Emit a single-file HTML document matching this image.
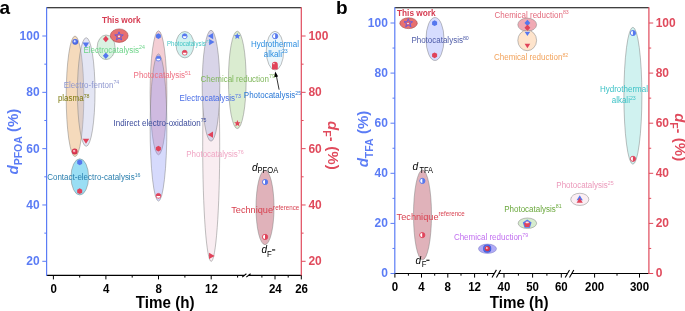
<!DOCTYPE html>
<html><head><meta charset="utf-8"><style>
html,body{margin:0;padding:0;background:#fff;}
body{width:685px;height:311px;overflow:hidden;}
svg{display:block;will-change:transform;}
text{font-family:"Liberation Sans", sans-serif;}
</style></head><body>
<svg width="685" height="311" viewBox="0 0 685 311">
<defs>
<radialGradient id="gb" cx="0.5" cy="0.5" r="0.5" fx="0.36" fy="0.36"><stop offset="0" stop-color="#ffffff"/><stop offset="0.22" stop-color="#c8d2ff"/><stop offset="0.5" stop-color="#5a78f0"/><stop offset="1" stop-color="#3d5ad8"/></radialGradient>
<radialGradient id="gr" cx="0.5" cy="0.5" r="0.5" fx="0.36" fy="0.36"><stop offset="0" stop-color="#ffffff"/><stop offset="0.22" stop-color="#f6b8c0"/><stop offset="0.5" stop-color="#e4405a"/><stop offset="1" stop-color="#c82a44"/></radialGradient>
</defs>
<ellipse cx="75.0" cy="96.30" rx="8.8" ry="60.30" fill="#f5dabc" fill-opacity="1" stroke="#7a7a7a" stroke-width="0.6" stroke-opacity="0.8"/>
<ellipse cx="86.2" cy="92.00" rx="8.8" ry="54.30" fill="#b2b8e0" fill-opacity="0.35" stroke="#7a7a7a" stroke-width="0.6" stroke-opacity="0.8"/>
<ellipse cx="106.1" cy="47.30" rx="8.95" ry="12.30" fill="#daf2e2" fill-opacity="1" stroke="#7a7a7a" stroke-width="0.6" stroke-opacity="0.8"/>
<ellipse cx="119.2" cy="35.65" rx="8.9" ry="6.75" fill="#e87070" fill-opacity="1" stroke="#a04040" stroke-width="0.7" stroke-opacity="0.8"/>
<ellipse cx="79.8" cy="176.90" rx="8.8" ry="18.10" fill="#9adef4" fill-opacity="1" stroke="#7a7a7a" stroke-width="0.6" stroke-opacity="0.8"/>
<ellipse cx="158.5" cy="92.80" rx="8.4" ry="62.00" fill="#f4ced4" fill-opacity="1" stroke="#7a7a7a" stroke-width="0.6" stroke-opacity="0.8"/>
<ellipse cx="158.5" cy="127.50" rx="8.4" ry="73.60" fill="#8a95f6" fill-opacity="0.35" stroke="#7a7a7a" stroke-width="0.6" stroke-opacity="0.8"/>
<ellipse cx="184.9" cy="44.70" rx="8.9" ry="13.20" fill="#d2f2f0" fill-opacity="1" stroke="#7a7a7a" stroke-width="0.6" stroke-opacity="0.8"/>
<ellipse cx="211.2" cy="146.20" rx="8.5" ry="115.20" fill="#f9edf1" fill-opacity="1" stroke="#7a7a7a" stroke-width="0.6" stroke-opacity="0.8"/>
<ellipse cx="211.0" cy="85.70" rx="8.8" ry="55.50" fill="#d8d4e8" fill-opacity="1" stroke="#7a7a7a" stroke-width="0.6" stroke-opacity="0.8"/>
<ellipse cx="237.3" cy="79.90" rx="8.85" ry="48.70" fill="#daecd0" fill-opacity="1" stroke="#7a7a7a" stroke-width="0.6" stroke-opacity="0.8"/>
<ellipse cx="275.0" cy="50.70" rx="8.7" ry="19.40" fill="#eaf6fc" fill-opacity="1" stroke="#7a7a7a" stroke-width="0.6" stroke-opacity="0.8"/>
<ellipse cx="265.0" cy="207.45" rx="9.0" ry="37.25" fill="#e0b2ba" fill-opacity="1" stroke="#7a7a7a" stroke-width="0.6" stroke-opacity="0.8"/>
<circle cx="75.2" cy="41.8" r="2.9" fill="url(#gb)"/>
<circle cx="74.7" cy="151.5" r="2.9" fill="url(#gr)"/>
<polygon points="82.65,42.56 89.15,42.56 85.90,47.66" fill="#5577ee"/>
<polygon points="82.75,138.66 89.25,138.66 86.00,143.76" fill="#e0435a"/>
<polygon points="105.8,35.8 108.7,39.0 105.8,42.2 102.89999999999999,39.0" fill="#e0435a"/>
<polygon points="105.8,52.599999999999994 108.7,55.8 105.8,59.0 102.89999999999999,55.8" fill="#5577ee"/>
<polygon points="119.00,31.80 120.11,34.77 123.28,34.91 120.80,36.88 121.65,39.94 119.00,38.19 116.35,39.94 117.20,36.88 114.72,34.91 117.89,34.77" fill="#e0606a" stroke="#5a5ae6" stroke-width="0.9" stroke-linejoin="round"/>
<circle cx="119" cy="36.4" r="0.9" fill="#fff"/>
<polygon points="79.70,159.40 82.21,160.85 82.21,163.75 79.70,165.20 77.19,163.75 77.19,160.85" fill="#5577ee"/>
<polygon points="79.70,188.30 82.21,189.75 82.21,192.65 79.70,194.10 77.19,192.65 77.19,189.75" fill="#e0435a"/>
<polygon points="158.40,33.20 160.91,34.65 160.91,37.55 158.40,39.00 155.89,37.55 155.89,34.65" fill="#5577ee"/>
<polygon points="158.40,145.70 160.91,147.15 160.91,150.05 158.40,151.50 155.89,150.05 155.89,147.15" fill="#e0435a"/>
<circle cx="158.4" cy="58.6" r="2.4" fill="#5577ee" stroke="#5577ee" stroke-width="0.8"/>
<path d="M156.50,58.70 A1.90,1.90 0 0 0 160.30,58.70 Z" fill="#fff"/>
<circle cx="158.4" cy="195.8" r="2.4" fill="#e0435a" stroke="#e0435a" stroke-width="0.8"/>
<path d="M156.50,195.90 A1.90,1.90 0 0 0 160.30,195.90 Z" fill="#fff"/>
<circle cx="184.7" cy="36.2" r="2.4" fill="#5577ee" stroke="#5577ee" stroke-width="0.8"/>
<path d="M182.80,36.30 A1.90,1.90 0 0 0 186.60,36.30 Z" fill="#fff"/>
<circle cx="184.7" cy="52.7" r="2.4" fill="#e0435a" stroke="#e0435a" stroke-width="0.8"/>
<path d="M182.80,52.80 A1.90,1.90 0 0 0 186.60,52.80 Z" fill="#fff"/>
<polygon points="213.18,33.00 213.18,39.20 207.75,36.10" fill="#5577ee"/>
<polygon points="212.98,131.60 212.98,137.80 207.56,134.70" fill="#e0435a"/>
<polygon points="209.12,39.00 209.12,45.20 214.54,42.10" fill="#5577ee"/>
<polygon points="209.04,252.70 209.04,259.10 214.64,255.90" fill="#e0435a"/>
<polygon points="237.30,32.90 238.20,35.06 240.53,35.25 238.76,36.77 239.30,39.05 237.30,37.83 235.30,39.05 235.84,36.77 234.07,35.25 236.40,35.06" fill="#5577ee"/>
<polygon points="237.40,120.00 238.30,122.16 240.63,122.35 238.86,123.87 239.40,126.15 237.40,124.93 235.40,126.15 235.94,123.87 234.17,122.35 236.50,122.16" fill="#e0435a"/>
<circle cx="275.2" cy="36.2" r="2.6" fill="#5577ee" stroke="#5577ee" stroke-width="0.8"/>
<path d="M275.10,34.10 A2.10,2.10 0 0 0 275.10,38.30 Z" fill="#fff"/>
<path d="M272.0,64.7 A2.9,2.9 0 0 1 277.8,64.7 L277.8,68.8 Q277.8,69.5 277.1,69.5 L272.7,69.5 Q272.0,69.5 272.0,68.8 Z" fill="#e0435a"/><rect x="273.2" y="62.9" width="1.3" height="1.3" fill="#fff" opacity="0.85"/>
<circle cx="265.1" cy="182.0" r="2.6" fill="#5577ee" stroke="#5577ee" stroke-width="0.8"/>
<path d="M265.00,179.90 A2.10,2.10 0 0 0 265.00,184.10 Z" fill="#fff"/>
<circle cx="265.1" cy="236.9" r="2.6" fill="#e0435a" stroke="#e0435a" stroke-width="0.8"/>
<path d="M265.00,234.80 A2.10,2.10 0 0 0 265.00,239.00 Z" fill="#fff"/>
<line x1="279.1" y1="89.7" x2="276.3" y2="75.5" stroke="#000" stroke-width="0.8"/>
<polygon points="275.3,71.6 273.9,77.3 278.1,76.5" fill="#000"/>
<text transform="translate(102.0,22.9) scale(1.0,1.11)" font-size="8.3" fill="#d63c52" font-weight="bold" text-anchor="start">This work</text>
<text transform="translate(83.5,52.85) scale(1.0,1.11)" font-size="8.0" fill="#6cd488">Electrocatalysis<tspan font-size="5.28" dy="-3.20">24</tspan></text>
<text transform="translate(63.7,87.95) scale(1.0,1.11)" font-size="8.0" fill="#8f97d0">Electro-fenton<tspan font-size="5.28" dy="-3.20">74</tspan></text>
<text transform="translate(57.9,101.05) scale(1.0,1.11)" font-size="8.0" fill="#7d7a10">plasma<tspan font-size="5.28" dy="-3.20">78</tspan></text>
<text transform="translate(167.1,46.05) scale(1.0,1.11)" font-size="6.0" fill="#44c6c6">Photocatalysis<tspan font-size="3.96" dy="-2.40">77</tspan></text>
<text transform="translate(133.6,78.05) scale(1.0,1.11)" font-size="8.0" fill="#ee6e80">Photocatalysis<tspan font-size="5.28" dy="-3.20">51</tspan></text>
<text transform="translate(200.6,81.65) scale(1.0,1.11)" font-size="8.0" fill="#80b85c">Chemical reduction<tspan font-size="5.28" dy="-3.20">79</tspan></text>
<text transform="translate(251.0,46.65) scale(1.0,1.11)" font-size="8.0" fill="#2c8ee0">Hydrothermal<tspan font-size="5.28" dy="-3.20"></tspan></text>
<text transform="translate(263.7,56.55) scale(1.0,1.11)" font-size="8.0" fill="#2c8ee0">alkali<tspan font-size="5.28" dy="-3.20">23</tspan></text>
<text transform="translate(179.6,101.35) scale(1.0,1.11)" font-size="8.0" fill="#4a6ee6">Electrocatalysis<tspan font-size="5.28" dy="-3.20">73</tspan></text>
<text transform="translate(243.8,98.15) scale(1.0,1.11)" font-size="8.0" fill="#2a78d6">Photocatalysis<tspan font-size="5.28" dy="-3.20">25</tspan></text>
<text transform="translate(113.6,125.75) scale(1.0,1.11)" font-size="8.0" fill="#3c4c9c">Indirect electro-oxidation<tspan font-size="5.28" dy="-3.20">75</tspan></text>
<text transform="translate(186.2,157.45) scale(1.0,1.11)" font-size="8.0" fill="#f0a6c4">Photocatalysis<tspan font-size="5.28" dy="-3.20">76</tspan></text>
<text transform="translate(47.2,180.25) scale(1.0,1.11)" font-size="8.0" fill="#2a7fae">Contact-electro-catalysis<tspan font-size="5.28" dy="-3.20">16</tspan></text>
<text transform="translate(231.2,213.15) scale(1.0,1.05)" font-size="9.2" fill="#d8404f">Technique<tspan font-size="6.2" dy="-3.30">reference</tspan></text>
<text transform="translate(252,170.9) scale(1.0,1.11)" font-size="10" font-style="italic" fill="#000">d<tspan font-size="7.6" font-style="normal" dy="1.9">PFOA</tspan></text>
<text transform="translate(261.4,252.6) scale(1.0,1.11)" font-size="10" font-style="italic" fill="#000">d</text>
<text transform="translate(266.9,256.5) scale(1.0,1.11)" font-size="7.8" fill="#000">F</text>
<rect x="272.0" y="249.4" width="3.2" height="1.1" fill="#000"/>
<line x1="46.6" y1="7.7" x2="301.3" y2="7.7" stroke="#000" stroke-width="1.1"/>
<path d="M46.6,275.4 H244.3 M248.5,275.4 H301.3" stroke="#000" stroke-width="1.2" fill="none"/>
<path d="M242.2,277.1 L246.4,273.8 M246.3,277.1 L250.6,273.8" stroke="#000" stroke-width="1.1" fill="none"/>
<line x1="46.6" y1="7.2" x2="46.6" y2="275.9" stroke="#5b7cf5" stroke-width="1.2"/>
<line x1="301.3" y1="7.2" x2="301.3" y2="275.9" stroke="#e04a5c" stroke-width="1.2"/>
<line x1="42.300000000000004" y1="36.00" x2="46.6" y2="36.00" stroke="#5b7cf5" stroke-width="1"/>
<line x1="301.3" y1="36.00" x2="305.6" y2="36.00" stroke="#e04a5c" stroke-width="1"/>
<line x1="42.300000000000004" y1="92.33" x2="46.6" y2="92.33" stroke="#5b7cf5" stroke-width="1"/>
<line x1="301.3" y1="92.33" x2="305.6" y2="92.33" stroke="#e04a5c" stroke-width="1"/>
<line x1="42.300000000000004" y1="148.65" x2="46.6" y2="148.65" stroke="#5b7cf5" stroke-width="1"/>
<line x1="301.3" y1="148.65" x2="305.6" y2="148.65" stroke="#e04a5c" stroke-width="1"/>
<line x1="42.300000000000004" y1="204.98" x2="46.6" y2="204.98" stroke="#5b7cf5" stroke-width="1"/>
<line x1="301.3" y1="204.98" x2="305.6" y2="204.98" stroke="#e04a5c" stroke-width="1"/>
<line x1="42.300000000000004" y1="261.30" x2="46.6" y2="261.30" stroke="#5b7cf5" stroke-width="1"/>
<line x1="301.3" y1="261.30" x2="305.6" y2="261.30" stroke="#e04a5c" stroke-width="1"/>
<line x1="44.300000000000004" y1="64.16" x2="46.6" y2="64.16" stroke="#5b7cf5" stroke-width="1"/>
<line x1="301.3" y1="64.16" x2="303.6" y2="64.16" stroke="#e04a5c" stroke-width="1"/>
<line x1="44.300000000000004" y1="120.49" x2="46.6" y2="120.49" stroke="#5b7cf5" stroke-width="1"/>
<line x1="301.3" y1="120.49" x2="303.6" y2="120.49" stroke="#e04a5c" stroke-width="1"/>
<line x1="44.300000000000004" y1="176.81" x2="46.6" y2="176.81" stroke="#5b7cf5" stroke-width="1"/>
<line x1="301.3" y1="176.81" x2="303.6" y2="176.81" stroke="#e04a5c" stroke-width="1"/>
<line x1="44.300000000000004" y1="233.14" x2="46.6" y2="233.14" stroke="#5b7cf5" stroke-width="1"/>
<line x1="301.3" y1="233.14" x2="303.6" y2="233.14" stroke="#e04a5c" stroke-width="1"/>
<text transform="translate(39.6,39.85) scale(1.0,1.08)" font-size="12.0" fill="#5b7cf5" font-weight="bold" text-anchor="end">100</text>
<text transform="translate(308.4,39.85) scale(1.0,1.08)" font-size="12.0" fill="#e04a5c" font-weight="bold" text-anchor="start">100</text>
<text transform="translate(39.6,96.18) scale(1.0,1.08)" font-size="12.0" fill="#5b7cf5" font-weight="bold" text-anchor="end">80</text>
<text transform="translate(308.4,96.18) scale(1.0,1.08)" font-size="12.0" fill="#e04a5c" font-weight="bold" text-anchor="start">80</text>
<text transform="translate(39.6,152.5) scale(1.0,1.08)" font-size="12.0" fill="#5b7cf5" font-weight="bold" text-anchor="end">60</text>
<text transform="translate(308.4,152.5) scale(1.0,1.08)" font-size="12.0" fill="#e04a5c" font-weight="bold" text-anchor="start">60</text>
<text transform="translate(39.6,208.83) scale(1.0,1.08)" font-size="12.0" fill="#5b7cf5" font-weight="bold" text-anchor="end">40</text>
<text transform="translate(308.4,208.83) scale(1.0,1.08)" font-size="12.0" fill="#e04a5c" font-weight="bold" text-anchor="start">40</text>
<text transform="translate(39.6,265.15) scale(1.0,1.08)" font-size="12.0" fill="#5b7cf5" font-weight="bold" text-anchor="end">20</text>
<text transform="translate(308.4,265.15) scale(1.0,1.08)" font-size="12.0" fill="#e04a5c" font-weight="bold" text-anchor="start">20</text>
<line x1="53.4" y1="275.4" x2="53.4" y2="279.4" stroke="#000" stroke-width="1"/>
<line x1="105.9" y1="275.4" x2="105.9" y2="279.4" stroke="#000" stroke-width="1"/>
<line x1="158.5" y1="275.4" x2="158.5" y2="279.4" stroke="#000" stroke-width="1"/>
<line x1="211.2" y1="275.4" x2="211.2" y2="279.4" stroke="#000" stroke-width="1"/>
<line x1="275.0" y1="275.4" x2="275.0" y2="279.4" stroke="#000" stroke-width="1"/>
<line x1="301.3" y1="275.4" x2="301.3" y2="279.4" stroke="#000" stroke-width="1"/>
<line x1="79.7" y1="275.4" x2="79.7" y2="277.59999999999997" stroke="#000" stroke-width="1"/>
<line x1="132.2" y1="275.4" x2="132.2" y2="277.59999999999997" stroke="#000" stroke-width="1"/>
<line x1="184.9" y1="275.4" x2="184.9" y2="277.59999999999997" stroke="#000" stroke-width="1"/>
<line x1="237.6" y1="275.4" x2="237.6" y2="277.59999999999997" stroke="#000" stroke-width="1"/>
<line x1="261.9" y1="275.4" x2="261.9" y2="277.59999999999997" stroke="#000" stroke-width="1"/>
<line x1="288.2" y1="275.4" x2="288.2" y2="277.59999999999997" stroke="#000" stroke-width="1"/>
<text transform="translate(53.699999999999996,292.6) scale(1.0,1.06)" font-size="11.5" fill="#000" font-weight="bold" text-anchor="middle">0</text>
<text transform="translate(106.2,292.6) scale(1.0,1.06)" font-size="11.5" fill="#000" font-weight="bold" text-anchor="middle">4</text>
<text transform="translate(158.8,292.6) scale(1.0,1.06)" font-size="11.5" fill="#000" font-weight="bold" text-anchor="middle">8</text>
<text transform="translate(211.5,292.6) scale(1.0,1.06)" font-size="11.5" fill="#000" font-weight="bold" text-anchor="middle">12</text>
<text transform="translate(275.3,292.6) scale(1.0,1.06)" font-size="11.5" fill="#000" font-weight="bold" text-anchor="middle">24</text>
<text transform="translate(301.6,292.6) scale(1.0,1.06)" font-size="11.5" fill="#000" font-weight="bold" text-anchor="middle">26</text>
<text transform="translate(165.2,307.7) scale(1.0,1.1)" font-size="15.2" fill="#000" font-weight="bold" text-anchor="middle">Time (h)</text>
<text transform="translate(17.8,174.5) rotate(-90)" font-weight="bold" font-size="15" fill="#5b7cf5"><tspan font-style="italic">d</tspan><tspan font-size="10.5" dy="4.6">PFOA</tspan><tspan dy="-4.6"> (%)</tspan></text>
<text transform="translate(327.6,121.0) rotate(90)" font-weight="bold" font-size="15" fill="#e04a5c"><tspan font-style="italic">d</tspan><tspan font-size="10.5" dy="4.6">F</tspan><tspan font-size="14" dy="-3.6" dx="0.5">-</tspan><tspan dy="-1.0" dx="0.4"> (%)</tspan></text>
<text transform="translate(-0.6,13.8) scale(1.0,1.0)" font-size="19" fill="#000" font-weight="bold" text-anchor="start">a</text>
<text transform="translate(335.9,13.8) scale(1.0,1.0)" font-size="19" fill="#000" font-weight="bold" text-anchor="start">b</text>
<ellipse cx="408.55" cy="23.20" rx="8.75" ry="5.40" fill="#e87070" fill-opacity="1" stroke="#a04040" stroke-width="0.7" stroke-opacity="0.8"/>
<ellipse cx="435.0" cy="39.00" rx="9.0" ry="21.50" fill="#d6dcfe" fill-opacity="1" stroke="#7a7a7a" stroke-width="0.6" stroke-opacity="0.8"/>
<ellipse cx="527.2" cy="24.70" rx="9.4" ry="6.60" fill="#f0aab4" fill-opacity="1" stroke="#7a7a7a" stroke-width="0.6" stroke-opacity="0.8"/>
<ellipse cx="527.2" cy="40.40" rx="9.4" ry="10.30" fill="#fee4cc" fill-opacity="1" stroke="#7a7a7a" stroke-width="0.6" stroke-opacity="0.8"/>
<ellipse cx="632.9" cy="95.75" rx="9.0" ry="68.45" fill="#d0f2f0" fill-opacity="1" stroke="#7a7a7a" stroke-width="0.6" stroke-opacity="0.8"/>
<ellipse cx="579.8" cy="199.35" rx="9.05" ry="6.10" fill="#fbeef3" fill-opacity="1" stroke="#7a7a7a" stroke-width="0.6" stroke-opacity="0.8"/>
<ellipse cx="527.4" cy="223.25" rx="9.25" ry="5.25" fill="#d6ecce" fill-opacity="1" stroke="#7a7a7a" stroke-width="0.6" stroke-opacity="0.8"/>
<ellipse cx="487.5" cy="248.75" rx="9.0" ry="4.65" fill="#b0aaf6" fill-opacity="1" stroke="#7070c0" stroke-width="0.6" stroke-opacity="0.8"/>
<ellipse cx="422.5" cy="214.90" rx="9.0" ry="44.90" fill="#e0b2ba" fill-opacity="1" stroke="#7a7a7a" stroke-width="0.6" stroke-opacity="0.8"/>
<polygon points="408.30,18.70 409.41,21.67 412.58,21.81 410.10,23.78 410.95,26.84 408.30,25.09 405.65,26.84 406.50,23.78 404.02,21.81 407.19,21.67" fill="#e0606a" stroke="#5a5ae6" stroke-width="0.9" stroke-linejoin="round"/>
<circle cx="408" cy="23.5" r="0.8" fill="#fff"/>
<polygon points="434.60,20.30 437.11,21.75 437.11,24.65 434.60,26.10 432.09,24.65 432.09,21.75" fill="#5577ee"/>
<polygon points="434.60,52.40 437.11,53.85 437.11,56.75 434.60,58.20 432.09,56.75 432.09,53.85" fill="#e0435a"/>
<polygon points="527.4,19.7 530.3,22.9 527.4,26.099999999999998 524.5,22.9" fill="#5577ee"/>
<polygon points="527.4,24.6 530.3,27.8 527.4,31.0 524.5,27.8" fill="#e0435a"/>
<polygon points="524.60,31.68 530.20,31.68 527.40,36.08" fill="#5577ee"/>
<polygon points="524.60,43.78 530.20,43.78 527.40,48.18" fill="#e0435a"/>
<circle cx="633.0" cy="33.0" r="2.6" fill="#5577ee" stroke="#5577ee" stroke-width="0.8"/>
<path d="M632.90,30.90 A2.10,2.10 0 0 0 632.90,35.10 Z" fill="#fff"/>
<circle cx="633.0" cy="158.8" r="2.6" fill="#e0435a" stroke="#e0435a" stroke-width="0.8"/>
<path d="M632.90,156.70 A2.10,2.10 0 0 0 632.90,160.90 Z" fill="#fff"/>
<polygon points="576.60,200.23 582.80,200.23 579.70,195.37" fill="#5577ee"/>
<polygon points="576.60,202.73 582.80,202.73 579.70,197.87" fill="#e0435a"/>
<polygon points="527.20,219.40 531.57,222.58 529.90,227.72 524.50,227.72 522.83,222.58" fill="#5577ee"/>
<polygon points="527.20,221.10 530.34,223.38 529.14,227.07 525.26,227.07 524.06,223.38" fill="#e0435a"/>
<ellipse cx="527.2" cy="222.4" rx="1.7" ry="0.9" fill="#fff" opacity="0.85"/>
<circle cx="487.2" cy="248.7" r="4.1" fill="url(#gb)"/>
<circle cx="487.3" cy="248.6" r="2.6" fill="url(#gr)"/>
<circle cx="422.4" cy="180.9" r="2.6" fill="#5577ee" stroke="#5577ee" stroke-width="0.8"/>
<path d="M422.30,178.80 A2.10,2.10 0 0 0 422.30,183.00 Z" fill="#fff"/>
<circle cx="422.3" cy="235.1" r="2.6" fill="#e0435a" stroke="#e0435a" stroke-width="0.8"/>
<path d="M422.20,233.00 A2.10,2.10 0 0 0 422.20,237.20 Z" fill="#fff"/>
<text transform="translate(397.0,16.0) scale(1.0,1.11)" font-size="8.3" fill="#d63c52" font-weight="bold" text-anchor="start">This work</text>
<text transform="translate(411.4,43.15) scale(1.0,1.11)" font-size="8.0" fill="#4f5ca8">Photocatalysis<tspan font-size="5.28" dy="-3.20">80</tspan></text>
<text transform="translate(494.5,17.75) scale(1.0,1.11)" font-size="8.0" fill="#e36a7c">Chemical reduction<tspan font-size="5.28" dy="-3.20">83</tspan></text>
<text transform="translate(494.0,60.35) scale(1.0,1.11)" font-size="8.0" fill="#f2a35c">Chemical reduction<tspan font-size="5.28" dy="-3.20">82</tspan></text>
<text transform="translate(600.0,92.25) scale(1.0,1.11)" font-size="8.0" fill="#3cc2c6">Hydrothermal<tspan font-size="5.28" dy="-3.20"></tspan></text>
<text transform="translate(611.7,103.35) scale(1.0,1.11)" font-size="8.0" fill="#3cc2c6">alkali<tspan font-size="5.28" dy="-3.20">23</tspan></text>
<text transform="translate(556.3,188.25) scale(1.0,1.11)" font-size="8.0" fill="#eb98ba">Photocatalysis<tspan font-size="5.28" dy="-3.20">25</tspan></text>
<text transform="translate(504.2,211.75) scale(1.0,1.11)" font-size="8.0" fill="#6aa83c">Photocatalysis<tspan font-size="5.28" dy="-3.20">81</tspan></text>
<text transform="translate(453.9,240.35) scale(1.0,1.11)" font-size="8.0" fill="#c270f0">Chemical reduction<tspan font-size="5.28" dy="-3.20">79</tspan></text>
<text transform="translate(396.6,219.55) scale(1.0,1.05)" font-size="9.2" fill="#d8404f">Technique<tspan font-size="6.2" dy="-3.30">reference</tspan></text>
<text transform="translate(412.6,170.0) scale(1.0,1.11)" font-size="10.2" font-style="italic" fill="#000">d</text>
<text transform="translate(419.4,172.6) scale(1.0,1.11)" font-size="7.4" fill="#000">TFA</text>
<text transform="translate(415.6,263.6) scale(1.0,1.11)" font-size="10" font-style="italic" fill="#000">d</text>
<text transform="translate(421.7,266.8) scale(1.0,1.11)" font-size="7.8" fill="#000">F</text>
<rect x="426.3" y="259.7" width="3.2" height="1.1" fill="#000"/>
<line x1="394.8" y1="7.7" x2="648.9" y2="7.7" stroke="#000" stroke-width="1.1"/>
<path d="M394.8,273.5 H494.2 M498.6,273.5 H567.2 M571.6,273.5 H648.9" stroke="#000" stroke-width="1.2" fill="none"/>
<path d="M492.0,277.5 L496.4,269.9 M496.4,277.5 L500.6,269.9 M565.2,277.5 L569.5,269.9 M569.5,277.5 L573.8,269.9" stroke="#000" stroke-width="1.1" fill="none"/>
<line x1="394.8" y1="7.2" x2="394.8" y2="274.0" stroke="#5b7cf5" stroke-width="1.2"/>
<line x1="648.9" y1="7.2" x2="648.9" y2="274.0" stroke="#e04a5c" stroke-width="1.2"/>
<line x1="390.5" y1="273.50" x2="394.8" y2="273.50" stroke="#5b7cf5" stroke-width="1"/>
<line x1="648.9" y1="273.50" x2="653.1999999999999" y2="273.50" stroke="#e04a5c" stroke-width="1"/>
<line x1="390.5" y1="223.40" x2="394.8" y2="223.40" stroke="#5b7cf5" stroke-width="1"/>
<line x1="648.9" y1="223.40" x2="653.1999999999999" y2="223.40" stroke="#e04a5c" stroke-width="1"/>
<line x1="390.5" y1="173.30" x2="394.8" y2="173.30" stroke="#5b7cf5" stroke-width="1"/>
<line x1="648.9" y1="173.30" x2="653.1999999999999" y2="173.30" stroke="#e04a5c" stroke-width="1"/>
<line x1="390.5" y1="123.20" x2="394.8" y2="123.20" stroke="#5b7cf5" stroke-width="1"/>
<line x1="648.9" y1="123.20" x2="653.1999999999999" y2="123.20" stroke="#e04a5c" stroke-width="1"/>
<line x1="390.5" y1="73.10" x2="394.8" y2="73.10" stroke="#5b7cf5" stroke-width="1"/>
<line x1="648.9" y1="73.10" x2="653.1999999999999" y2="73.10" stroke="#e04a5c" stroke-width="1"/>
<line x1="390.5" y1="23.00" x2="394.8" y2="23.00" stroke="#5b7cf5" stroke-width="1"/>
<line x1="648.9" y1="23.00" x2="653.1999999999999" y2="23.00" stroke="#e04a5c" stroke-width="1"/>
<line x1="392.5" y1="248.45" x2="394.8" y2="248.45" stroke="#5b7cf5" stroke-width="1"/>
<line x1="648.9" y1="248.45" x2="651.1999999999999" y2="248.45" stroke="#e04a5c" stroke-width="1"/>
<line x1="392.5" y1="198.35" x2="394.8" y2="198.35" stroke="#5b7cf5" stroke-width="1"/>
<line x1="648.9" y1="198.35" x2="651.1999999999999" y2="198.35" stroke="#e04a5c" stroke-width="1"/>
<line x1="392.5" y1="148.25" x2="394.8" y2="148.25" stroke="#5b7cf5" stroke-width="1"/>
<line x1="648.9" y1="148.25" x2="651.1999999999999" y2="148.25" stroke="#e04a5c" stroke-width="1"/>
<line x1="392.5" y1="98.15" x2="394.8" y2="98.15" stroke="#5b7cf5" stroke-width="1"/>
<line x1="648.9" y1="98.15" x2="651.1999999999999" y2="98.15" stroke="#e04a5c" stroke-width="1"/>
<line x1="392.5" y1="48.05" x2="394.8" y2="48.05" stroke="#5b7cf5" stroke-width="1"/>
<line x1="648.9" y1="48.05" x2="651.1999999999999" y2="48.05" stroke="#e04a5c" stroke-width="1"/>
<text transform="translate(387.8,277.35) scale(1.0,1.08)" font-size="12.0" fill="#5b7cf5" font-weight="bold" text-anchor="end">0</text>
<text transform="translate(655.7,277.35) scale(1.0,1.08)" font-size="12.0" fill="#e04a5c" font-weight="bold" text-anchor="start">0</text>
<text transform="translate(387.8,227.25) scale(1.0,1.08)" font-size="12.0" fill="#5b7cf5" font-weight="bold" text-anchor="end">20</text>
<text transform="translate(655.7,227.25) scale(1.0,1.08)" font-size="12.0" fill="#e04a5c" font-weight="bold" text-anchor="start">20</text>
<text transform="translate(387.8,177.15) scale(1.0,1.08)" font-size="12.0" fill="#5b7cf5" font-weight="bold" text-anchor="end">40</text>
<text transform="translate(655.7,177.15) scale(1.0,1.08)" font-size="12.0" fill="#e04a5c" font-weight="bold" text-anchor="start">40</text>
<text transform="translate(387.8,127.05) scale(1.0,1.08)" font-size="12.0" fill="#5b7cf5" font-weight="bold" text-anchor="end">60</text>
<text transform="translate(655.7,127.05) scale(1.0,1.08)" font-size="12.0" fill="#e04a5c" font-weight="bold" text-anchor="start">60</text>
<text transform="translate(387.8,76.95) scale(1.0,1.08)" font-size="12.0" fill="#5b7cf5" font-weight="bold" text-anchor="end">80</text>
<text transform="translate(655.7,76.95) scale(1.0,1.08)" font-size="12.0" fill="#e04a5c" font-weight="bold" text-anchor="start">80</text>
<text transform="translate(387.8,26.85) scale(1.0,1.08)" font-size="12.0" fill="#5b7cf5" font-weight="bold" text-anchor="end">100</text>
<text transform="translate(655.7,26.85) scale(1.0,1.08)" font-size="12.0" fill="#e04a5c" font-weight="bold" text-anchor="start">100</text>
<line x1="394.9" y1="273.5" x2="394.9" y2="277.6" stroke="#000" stroke-width="1"/>
<line x1="421.5" y1="273.5" x2="421.5" y2="277.6" stroke="#000" stroke-width="1"/>
<line x1="447.8" y1="273.5" x2="447.8" y2="277.6" stroke="#000" stroke-width="1"/>
<line x1="474.6" y1="273.5" x2="474.6" y2="277.6" stroke="#000" stroke-width="1"/>
<line x1="504.0" y1="273.5" x2="504.0" y2="277.6" stroke="#000" stroke-width="1"/>
<line x1="532.6" y1="273.5" x2="532.6" y2="277.6" stroke="#000" stroke-width="1"/>
<line x1="561.3" y1="273.5" x2="561.3" y2="277.6" stroke="#000" stroke-width="1"/>
<line x1="594.6" y1="273.5" x2="594.6" y2="277.6" stroke="#000" stroke-width="1"/>
<line x1="639.5" y1="273.5" x2="639.5" y2="277.6" stroke="#000" stroke-width="1"/>
<line x1="408.4" y1="273.5" x2="408.4" y2="275.7" stroke="#000" stroke-width="1"/>
<line x1="434.7" y1="273.5" x2="434.7" y2="275.7" stroke="#000" stroke-width="1"/>
<line x1="461.0" y1="273.5" x2="461.0" y2="275.7" stroke="#000" stroke-width="1"/>
<line x1="487.6" y1="273.5" x2="487.6" y2="275.7" stroke="#000" stroke-width="1"/>
<line x1="518.4" y1="273.5" x2="518.4" y2="275.7" stroke="#000" stroke-width="1"/>
<line x1="546.9" y1="273.5" x2="546.9" y2="275.7" stroke="#000" stroke-width="1"/>
<line x1="617.0" y1="273.5" x2="617.0" y2="275.7" stroke="#000" stroke-width="1"/>
<text transform="translate(394.9,290.8) scale(1.0,1.06)" font-size="11.5" fill="#000" font-weight="bold" text-anchor="middle">0</text>
<text transform="translate(421.5,290.8) scale(1.0,1.06)" font-size="11.5" fill="#000" font-weight="bold" text-anchor="middle">4</text>
<text transform="translate(447.8,290.8) scale(1.0,1.06)" font-size="11.5" fill="#000" font-weight="bold" text-anchor="middle">8</text>
<text transform="translate(474.6,290.8) scale(1.0,1.06)" font-size="11.5" fill="#000" font-weight="bold" text-anchor="middle">12</text>
<text transform="translate(504.0,290.8) scale(1.0,1.06)" font-size="11.5" fill="#000" font-weight="bold" text-anchor="middle">40</text>
<text transform="translate(532.6,290.8) scale(1.0,1.06)" font-size="11.5" fill="#000" font-weight="bold" text-anchor="middle">50</text>
<text transform="translate(561.3,290.8) scale(1.0,1.06)" font-size="11.5" fill="#000" font-weight="bold" text-anchor="middle">60</text>
<text transform="translate(594.6,290.8) scale(1.0,1.06)" font-size="11.5" fill="#000" font-weight="bold" text-anchor="middle">200</text>
<text transform="translate(639.5,290.8) scale(1.0,1.06)" font-size="11.5" fill="#000" font-weight="bold" text-anchor="middle">300</text>
<text transform="translate(519.1,308.0) scale(1.0,1.1)" font-size="15.2" fill="#000" font-weight="bold" text-anchor="middle">Time (h)</text>
<text transform="translate(368.4,167.3) rotate(-90)" font-weight="bold" font-size="15" fill="#5b7cf5"><tspan font-style="italic">d</tspan><tspan font-size="10.5" dy="4.6">TFA</tspan><tspan dy="-4.6"> (%)</tspan></text>
<text transform="translate(674.7,113.2) rotate(90)" font-weight="bold" font-size="15" fill="#e04a5c"><tspan font-style="italic">d</tspan><tspan font-size="10.5" dy="4.6">F</tspan><tspan font-size="14" dy="-3.6">-</tspan><tspan dy="-1.0" dx="0.2"> (%)</tspan></text>
</svg>
</body></html>
